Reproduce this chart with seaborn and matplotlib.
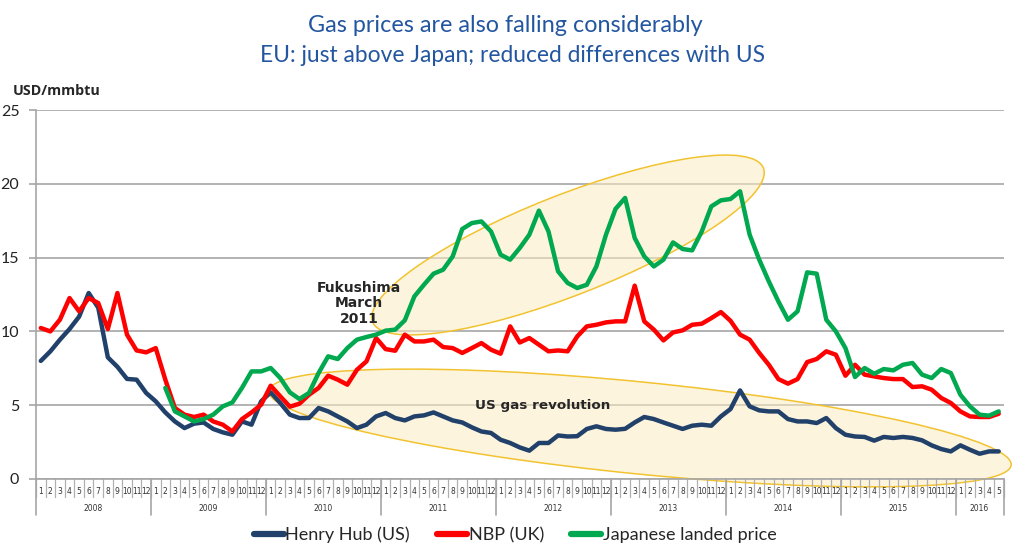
import numpy as np
import pandas as pd
import matplotlib
matplotlib.use("Agg")
import matplotlib.pyplot as plt
from matplotlib.patches import Ellipse
from matplotlib.lines import Line2D
import seaborn as sns

# ---------------- data ----------------
years = ["2008", "2009", "2010", "2011", "2012", "2013", "2014", "2015", "2016"]
months_per_year = [12, 12, 12, 12, 12, 12, 12, 12, 5]

henry_hub = [
    8.0, 8.65, 9.44, 10.16, 11.0, 12.6, 11.6, 8.24, 7.6, 6.78, 6.73, 5.83,
    5.26, 4.51, 3.9, 3.45, 3.75, 3.83, 3.39, 3.16, 3.0, 3.9, 3.68, 5.26,
    5.87, 5.15, 4.36, 4.13, 4.13, 4.81, 4.58, 4.24, 3.9, 3.45, 3.68, 4.24,
    4.47, 4.13, 3.97, 4.24, 4.31, 4.51, 4.24, 3.97, 3.83, 3.5, 3.22, 3.12,
    2.66, 2.44, 2.14, 1.92, 2.44, 2.44, 2.95, 2.88, 2.9, 3.39, 3.57, 3.39,
    3.34, 3.4, 3.83, 4.2, 4.06, 3.83, 3.61, 3.39, 3.61, 3.68, 3.61, 4.24,
    4.74, 6.0, 4.92, 4.65, 4.58, 4.58, 4.06, 3.9, 3.9, 3.79, 4.13, 3.45,
    3.0, 2.88, 2.85, 2.6, 2.85, 2.78, 2.85, 2.78, 2.62, 2.28, 2.03, 1.87,
    2.28, 1.98, 1.71, 1.87, 1.87,
]
nbp = [
    10.23, 10.0, 10.8, 12.26, 11.36, 12.26, 11.92, 10.16, 12.6, 9.78, 8.71, 8.58,
    8.87, 6.73, 4.81, 4.36, 4.2, 4.36, 3.9, 3.68, 3.22, 4.06, 4.51, 5.03,
    6.32, 5.6, 4.9, 5.1, 5.71, 6.17, 7.0, 6.73, 6.39, 7.4, 7.97, 9.55,
    8.8, 8.69, 9.78, 9.32, 9.32, 9.44, 8.94, 8.87, 8.54, 8.87, 9.21, 8.76,
    8.49, 10.34, 9.25, 9.55, 9.1, 8.65, 8.71, 8.65, 9.66, 10.34, 10.45, 10.61,
    10.68, 10.68, 13.1, 10.68, 10.12, 9.39, 9.93, 10.07, 10.45, 10.52, 10.9, 11.31,
    10.72, 9.78, 9.44, 8.54, 7.74, 6.77, 6.46, 6.77, 7.92, 8.13, 8.65, 8.42,
    7.0, 7.74, 7.07, 6.95, 6.84, 6.77, 6.77, 6.23, 6.28, 6.05, 5.49, 5.15,
    4.58, 4.24, 4.2, 4.2, 4.42,
]
japan = [
    np.nan, np.nan, np.nan, np.nan, np.nan, np.nan, np.nan, np.nan, np.nan, np.nan, np.nan, np.nan,
    np.nan, 6.17, 4.58, 4.24, 3.9, 4.06, 4.36, 4.92, 5.19, 6.17, 7.29, 7.29,
    7.52, 6.84, 5.87, 5.42, 5.83, 7.18, 8.31, 8.13, 8.87, 9.44, 9.62, 9.78,
    10.05, 10.12, 10.75, 12.37, 13.16, 13.91, 14.18, 15.08, 16.94, 17.34, 17.45, 16.77,
    15.2, 14.86, 15.65, 16.55, 18.18, 16.77, 14.07, 13.28, 12.94, 13.16, 14.4, 16.55,
    18.3, 19.04, 16.33, 15.08, 14.4, 14.86, 16.03, 15.58, 15.49, 16.77, 18.47, 18.88,
    18.97, 19.49, 16.55, 14.86, 13.39, 12.03, 10.79, 11.36, 14.0, 13.91, 10.79, 10.0,
    8.87, 6.91, 7.52, 7.13, 7.45, 7.36, 7.74, 7.86, 7.07, 6.84, 7.45, 7.18,
    5.71, 4.92, 4.36, 4.29, 4.58,
]
series_names = ["Henry Hub (US)", "NBP (UK)", "Japanese landed price"]
series_colors = ["#21416b", "#ff0000", "#00a84f"]
y_ticks = [0, 5, 10, 15, 20, 25]

month_labels = []
for n in months_per_year:
    month_labels += [str(m) for m in range(1, n + 1)]
idx = np.arange(len(month_labels))

df = pd.concat([
    pd.DataFrame({"month": idx, "value": vals, "series": name})
    for name, vals in zip(series_names, [henry_hub, nbp, japan])
]).dropna()

# ---------------- figure ----------------
sns.set_style("white")
plt.rcParams["font.family"] = ["DejaVu Sans"]

W, H = 1024, 559
fig = plt.figure(figsize=(W / 100, H / 100), dpi=100)
ax = fig.add_axes([36 / W, 1 - 479 / H, (1003.5 - 36) / W, (479 - 110) / H])

ax.set_axisbelow(True)
ax.yaxis.grid(True, color="#a6a6a6", linewidth=1.2)
ax.xaxis.grid(False)

# ellipses (decorations, in pixel space)
def px_ellipse(cx, cy, w, h, ang):
    return Ellipse((cx / 100, (H - cy) / 100), w / 100, h / 100, angle=ang,
                   transform=fig.dpi_scale_trans,
                   facecolor=(0.99, 0.92, 0.76, 0.55), edgecolor="#f2c330",
                   linewidth=1.1, zorder=1, clip_on=False)

ax.add_patch(px_ellipse(568, 245, 420, 100, 21.5))
ax.add_patch(px_ellipse(640, 428, 746, 92, -5.7))

sns.lineplot(data=df, x="month", y="value", hue="series", hue_order=series_names,
             palette=series_colors, linewidth=3.2, legend=False, ax=ax, zorder=3)

ax.set_xlim(-0.5, len(idx) - 0.5)
ax.set_ylim(0, 25)
ax.set_xlabel("")
ax.set_ylabel("")
ax.set_yticks(y_ticks)
ax.set_yticklabels([str(v) for v in y_ticks], fontsize=11.5, family="Lato", color="#222222")
ax.tick_params(axis="y", length=5, color="#a6a6a6", width=1.2, pad=7, left=True)
ax.set_xticks([])

for s in ["top", "right"]:
    ax.spines[s].set_visible(False)
for s in ["left", "bottom"]:
    ax.spines[s].set_color("#a6a6a6")
    ax.spines[s].set_linewidth(1.2)

xt = ax.get_xaxis_transform()
# month labels and separators
for i, lab in zip(idx, month_labels):
    ax.text(i, -0.035, lab, transform=xt, ha="center", va="center", fontsize=5.5,
            color="#333333")
for b in np.arange(len(idx) + 1) - 0.5:
    ax.plot([b, b], [0, -0.048], transform=xt, color="#b0b0b0", lw=0.9, clip_on=False)
# year labels and separators
start = 0
for y, n in zip(years, months_per_year):
    ax.text(start + (n - 1) / 2, -0.079, y, transform=xt, ha="center", va="center",
            fontsize=5.5, color="#333333")
    ax.plot([start - 0.5, start - 0.5], [0, -0.098], transform=xt, color="#a6a6a6",
            lw=1.2, clip_on=False)
    start += n
ax.plot([start - 0.5, start - 0.5], [0, -0.098], transform=xt, color="#a6a6a6",
        lw=1.2, clip_on=False)

# annotations
ax.text(33.2, 11.9, "Fukushima\nMarch\n2011", ha="center", va="center",
        fontsize=10, fontweight="bold", linespacing=1.15, zorder=4)
ax.text(52.4, 5.0, "US gas revolution", ha="center", va="center",
        fontsize=9.7, fontweight="bold", zorder=4)

# titles
title_color = "#2356a0"
fig.text(505 / W, 1 - 25 / H, "Gas prices are also falling considerably",
         ha="center", va="center", fontsize=16.8, color=title_color, family="Lato")
fig.text(512 / W, 1 - 55 / H, "EU: just above Japan; reduced differences with US",
         ha="center", va="center", fontsize=16.4, color=title_color, family="Lato")

fig.text(13 / W, 1 - 91 / H, "USD/mmbtu", ha="left", va="center", fontsize=10.3,
         fontweight="bold", family="Open Sans")

handles = [Line2D([0], [0], color=c, lw=4.5) for c in series_colors]
fig.legend(handles, series_names, loc="center", bbox_to_anchor=(515 / W, 1 - 535 / H),
           ncol=3, frameon=False, handlelength=1.65, handletextpad=0.1,
           columnspacing=1.5, prop={"family": "Lato", "size": 13})

fig.savefig("out.png", dpi=100)
